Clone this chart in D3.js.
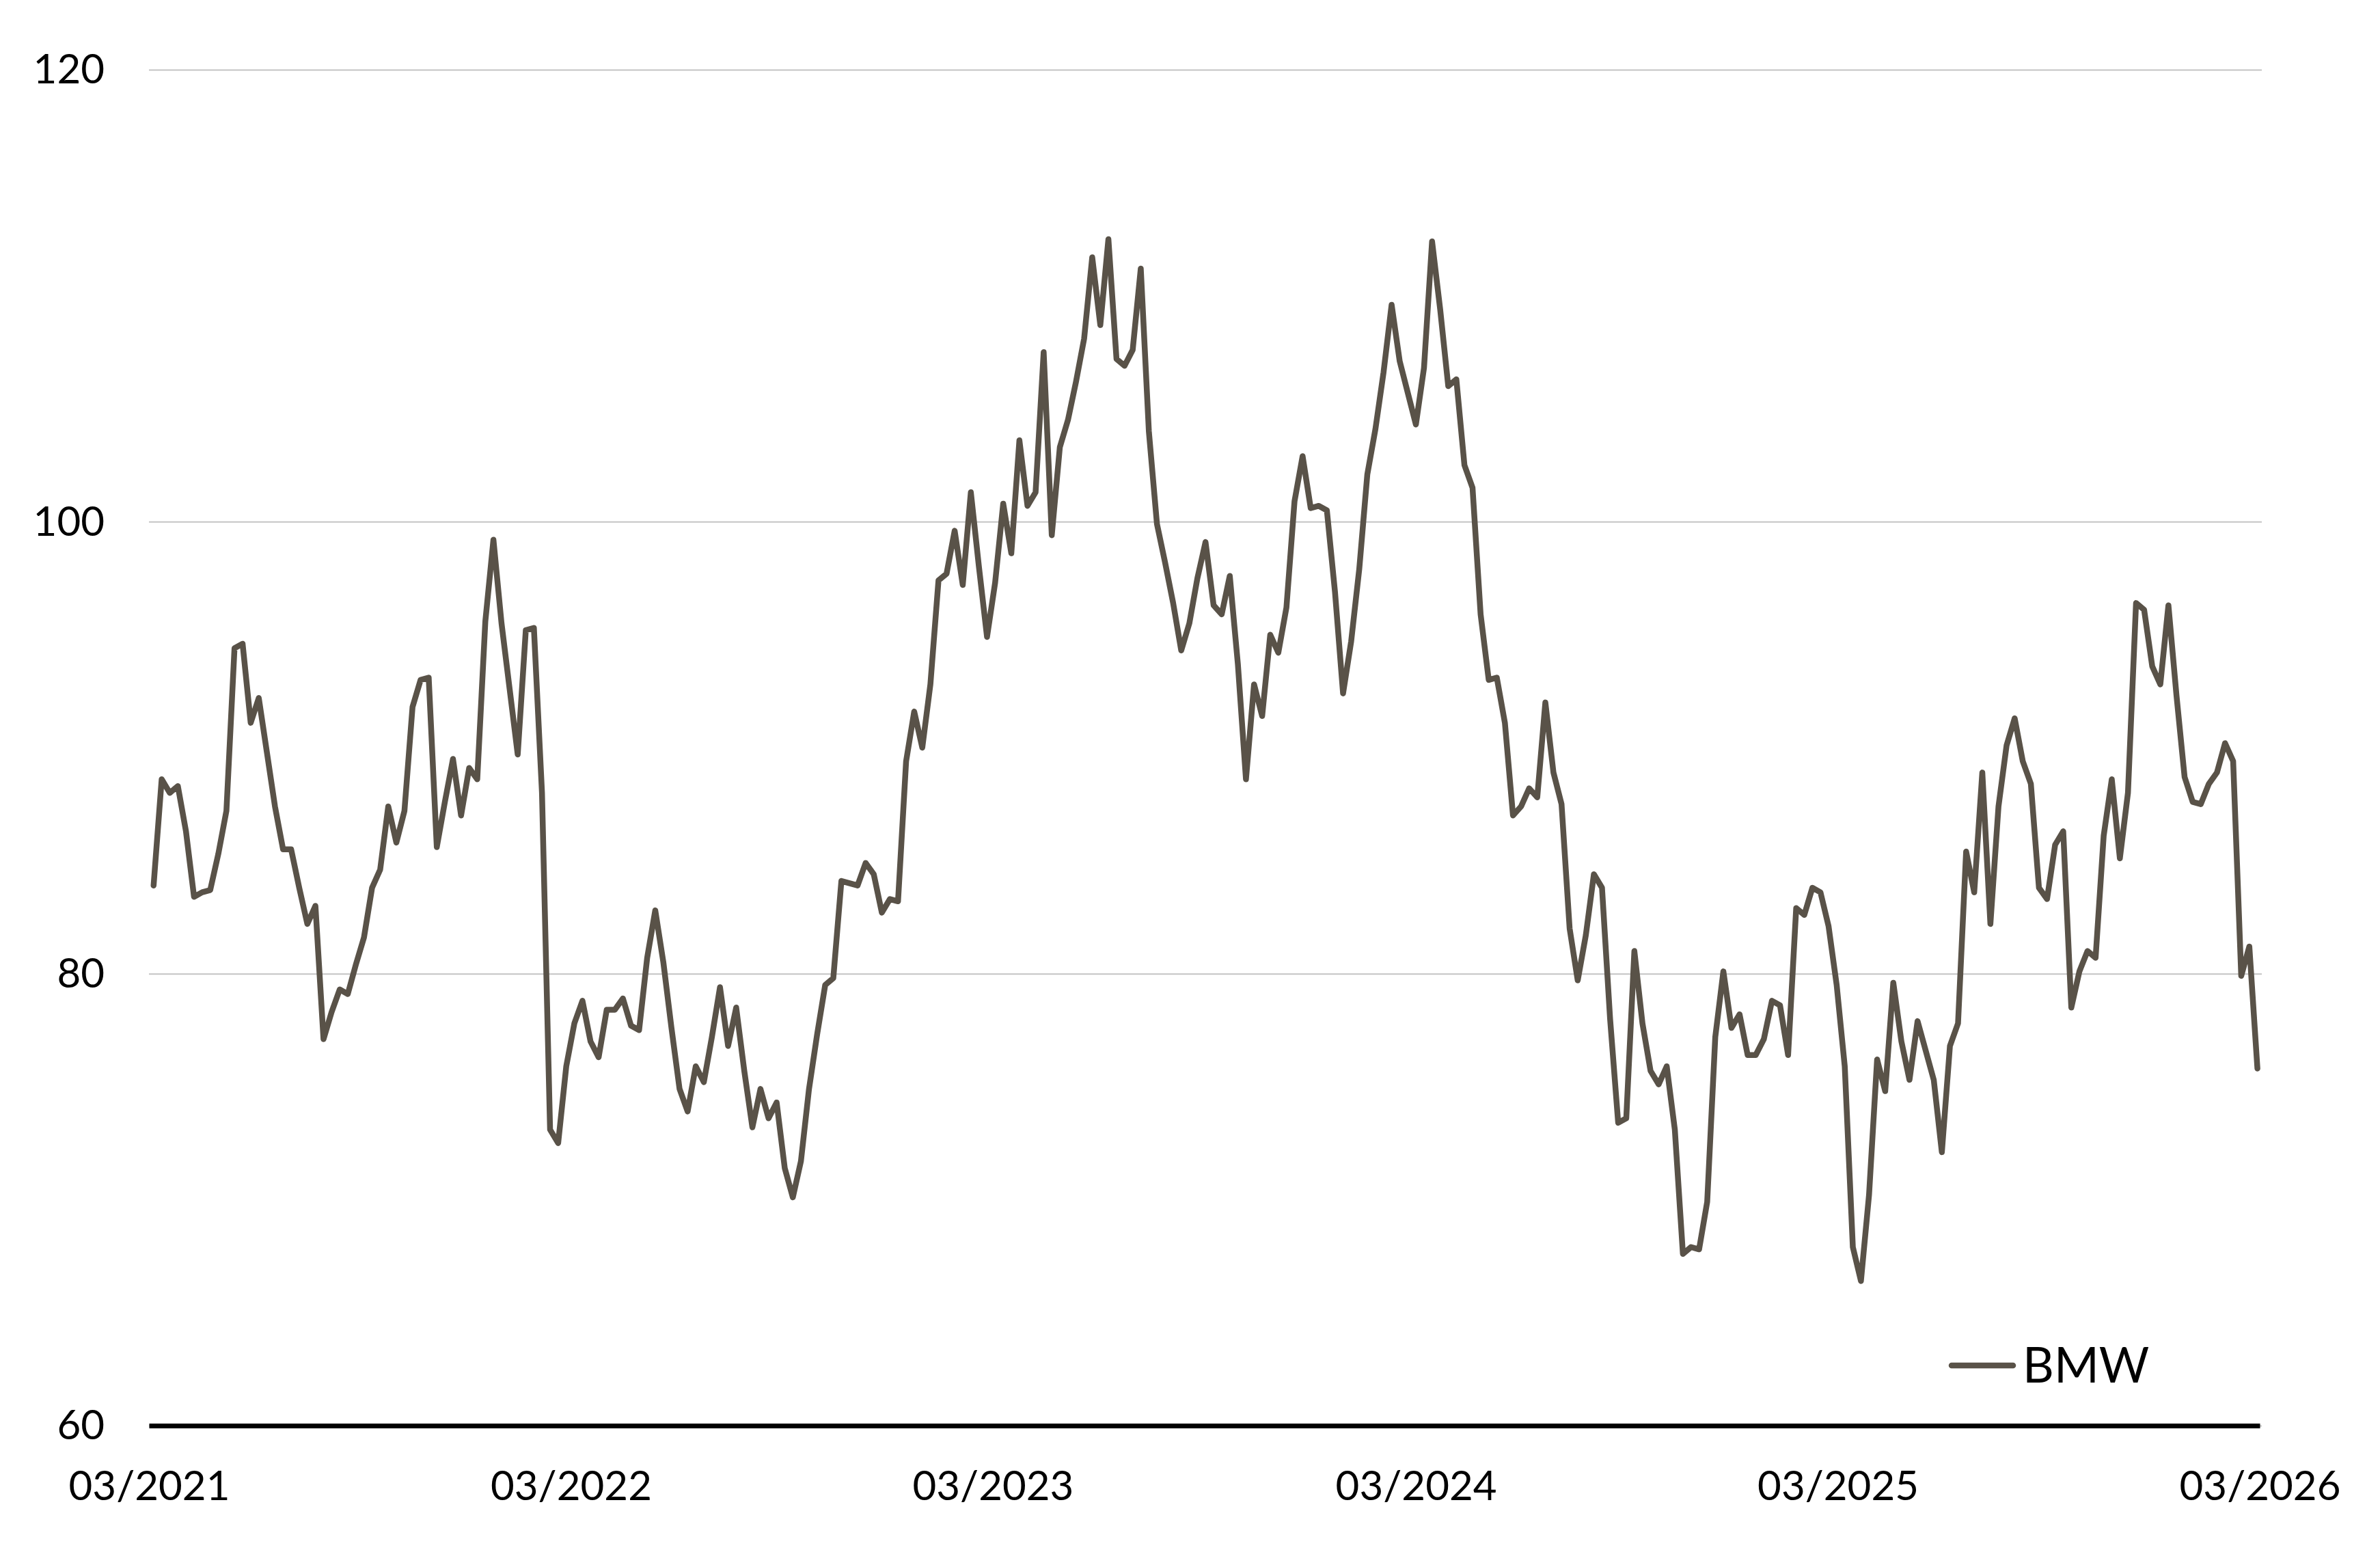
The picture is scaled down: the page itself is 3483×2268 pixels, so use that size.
<!DOCTYPE html>
<html>
<head>
<meta charset="utf-8">
<script src="https://cdn.jsdelivr.net/npm/d3@7"></script>
<style>
  html, body { margin: 0; padding: 0; background: #ffffff; }
  svg { display: block; }
</style>
</head>
<body>
<script>
// ---- data ----
const seriesName = "BMW";
const firstDate = "2021-03-05";        // weekly observations (Fridays)
const stepDays = 7;
const bmwValues = [
  83.9, 88.6, 88.0, 88.3, 86.3, 83.4, 83.6, 83.7, 85.3, 87.2,
  94.4, 94.6, 91.1, 92.2, 89.8, 87.4, 85.5, 85.5, 83.8, 82.2,
  83.0, 77.1, 78.3, 79.3, 79.1, 80.4, 81.6, 83.8, 84.6, 87.4,
  85.8, 87.2, 91.8, 93.0, 93.1, 85.6, 87.6, 89.5, 87.0, 89.1,
  88.6, 95.6, 99.2, 95.5, 92.6, 89.7, 95.2, 95.3, 88.0, 73.1,
  72.5, 75.9, 77.8, 78.8, 77.0, 76.3, 78.4, 78.4, 78.9, 77.7,
  77.5, 80.7, 82.8, 80.5, 77.6, 74.9, 73.9, 75.9, 75.2, 77.2,
  79.4, 76.8, 78.5, 75.7, 73.2, 74.9, 73.6, 74.3, 71.4, 70.1,
  71.7, 74.9, 77.3, 79.5, 79.8, 84.1, 84.0, 83.9, 84.9, 84.4,
  82.7, 83.3, 83.2, 89.4, 91.6, 90.0, 92.8, 97.4, 97.7, 99.6,
  97.2, 101.3, 98.0, 94.9, 97.3, 100.8, 98.6, 103.6, 100.7, 101.3,
  107.5, 99.4, 103.3, 104.5, 106.2, 108.1, 111.7, 108.7, 112.5, 107.2,
  106.9, 107.6, 111.2, 104.0, 99.9, 98.2, 96.4, 94.3, 95.5, 97.5,
  99.1, 96.3, 95.9, 97.6, 93.7, 88.6, 92.8, 91.4, 95.0, 94.2,
  96.2, 100.9, 102.9, 100.6, 100.7, 100.5, 96.9, 92.4, 94.7, 97.9,
  102.1, 104.1, 106.6, 109.6, 107.1, 105.7, 104.3, 106.8, 112.4, 109.4,
  106.0, 106.3, 102.5, 101.5, 95.9, 93.0, 93.1, 91.1, 87.0, 87.4,
  88.2, 87.8, 92.0, 88.9, 87.5, 82.0, 79.7, 81.7, 84.4, 83.8,
  78.0, 73.4, 73.6, 81.0, 77.8, 75.7, 75.1, 75.9, 73.1, 67.6,
  67.9, 67.8, 69.9, 77.2, 80.1, 77.6, 78.2, 76.4, 76.4, 77.1,
  78.8, 78.6, 76.4, 82.9, 82.6, 83.8, 83.6, 82.1, 79.5, 75.9,
  67.9, 66.4, 70.2, 76.2, 74.8, 79.6, 77.0, 75.3, 77.9, 76.6,
  75.3, 72.1, 76.8, 77.8, 85.4, 83.6, 88.9, 82.2, 87.4, 90.1,
  91.3, 89.4, 88.4, 83.8, 83.3, 85.7, 86.3, 78.5, 80.1, 81.0,
  80.7, 86.1, 88.6, 85.1, 88.0, 96.4, 96.1, 93.6, 92.8, 96.3,
  92.3, 88.7, 87.6, 87.5, 88.4, 88.9, 90.2, 89.4, 79.9, 81.2,
  75.8
];
const xTickDates = ["2021-03-01", "2022-03-01", "2023-03-01", "2024-03-01", "2025-03-01", "2026-03-01"];
const yTicks = [60, 80, 100, 120];
const yDomain = [60, 120];

// ---- layout ----
const W = 3483, H = 2268;
const plotLeft = 218, plotRight = 3307, plotTop = 102, plotBottom = 2086;
const lineColor = "#595248";
const font = "Lato, 'Open Sans', 'Liberation Sans', sans-serif";

const parse = d3.utcParse("%Y-%m-%d");
const start = parse(firstDate);
const data = bmwValues.map((v, i) => ({ date: d3.utcDay.offset(start, i * stepDays), value: v }));
const tickDates = xTickDates.map(parse);

const x = d3.scaleUtc().domain([tickDates[0], tickDates[tickDates.length - 1]]).range([plotLeft, plotRight]);
const y = d3.scaleLinear().domain(yDomain).range([plotBottom, plotTop]);

const svg = d3.select("body").append("svg")
  .attr("width", W).attr("height", H)
  .style("background", "#ffffff");

// gridlines + y labels
const yAxis = svg.append("g")
  .attr("transform", `translate(${plotLeft},0)`)
  .call(d3.axisLeft(y).tickValues(yTicks).tickSize(-(plotRight - plotLeft + 3)).tickPadding(65).tickFormat(d3.format("d")));
yAxis.select(".domain").remove();
yAxis.selectAll(".tick line").attr("stroke", "#c4c4c4").attr("stroke-width", 2);
yAxis.selectAll(".tick text")
  .attr("fill", "#000").attr("font-family", font).attr("font-size", 60).attr("dy", "0.33em");

// series line
svg.append("path")
  .datum(data)
  .attr("fill", "none")
  .attr("stroke", lineColor)
  .attr("stroke-width", 8.5)
  .attr("stroke-linejoin", "round")
  .attr("stroke-linecap", "round")
  .attr("d", d3.line().x(d => x(d.date)).y(d => y(d.value)));

// x axis
const xAxis = svg.append("g")
  .attr("transform", `translate(0,${plotBottom})`)
  .call(d3.axisBottom(x).tickValues(tickDates).tickSize(0).tickPadding(66).tickFormat(d3.utcFormat("%m/%Y")));
xAxis.select(".domain").attr("stroke", "#000").attr("stroke-width", 7);
xAxis.selectAll(".tick text")
  .attr("fill", "#000").attr("font-family", font).attr("font-size", 60);

// legend
const legend = svg.append("g").attr("transform", "translate(2856,1998)");
legend.append("line")
  .attr("x1", 0).attr("x2", 90).attr("y1", 0).attr("y2", 0)
  .attr("stroke", lineColor).attr("stroke-width", 8.5).attr("stroke-linecap", "round");
legend.append("text")
  .attr("x", 104).attr("y", 25)
  .attr("font-family", font).attr("font-size", 71).attr("fill", "#000")
  .text(seriesName);
</script>
</body>
</html>
